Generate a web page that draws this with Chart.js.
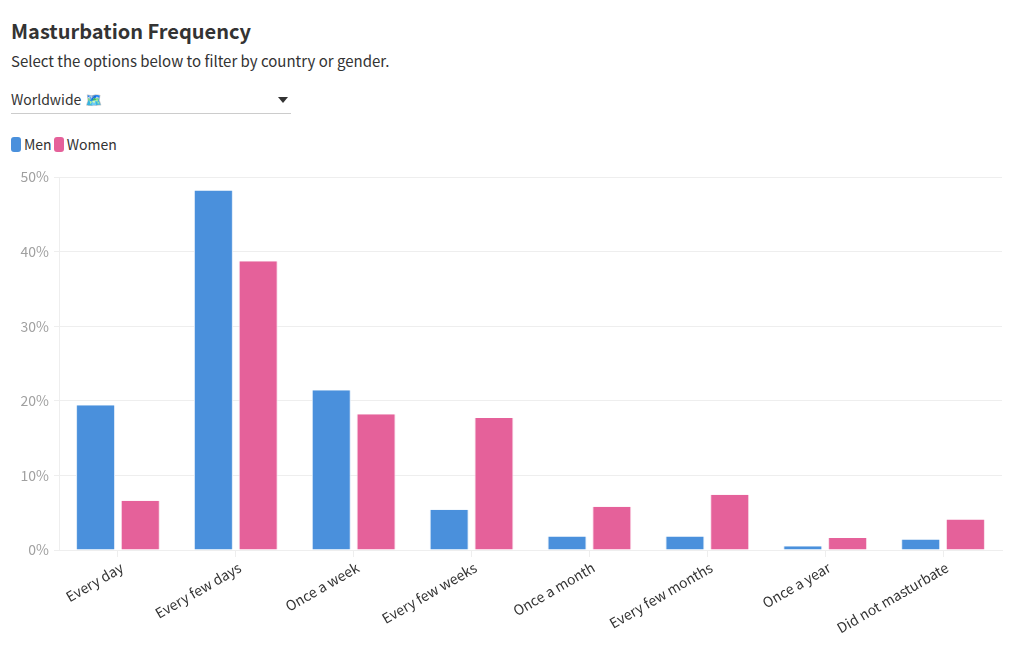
<!DOCTYPE html>
<html>
<head>
<meta charset="utf-8">
<script src="https://cdn.jsdelivr.net/npm/chart.js@4"></script>
<style>
    body { margin: 0; background: #fff; color: #333; font-family: "Noto Sans CJK SC", sans-serif; width: 1020px; height: 650px; overflow: hidden; position: relative; }
    h1 { position: absolute; left: 11px; top: 17px; margin: 0; font-size: 20px; line-height: 28px; font-weight: 700; }
    p { position: absolute; left: 11px; top: 51px; margin: 0; font-size: 15px; line-height: 20px; }
    .filtro { position: absolute; left: 11px; top: 85px; width: 280px; height: 28px; border-bottom: 1px solid #ccc; font-size: 14px; line-height: 28px; }
    .filtro:after { content: ''; position: absolute; left: 267px; top: 12px; border-left: 5.5px solid transparent; border-right: 5.5px solid transparent; border-top: 6px solid #333; }
    #leyenda { position: absolute; left: 11px; top: 134px; height: 21px; font-size: 14px; line-height: 21px; white-space: nowrap; }
    #leyenda span { display: inline-block; vertical-align: top; }
    #leyenda .caja { width: 10px; height: 15px; margin: 3px 3px 0 0; border-radius: 3px; }
    #leyenda .texto { margin-right: 2px; }
    .grafica { position: absolute; left: 0; top: 130px; width: 1020px; height: 520px; }
</style>
</head>
<body>
<h1>Masturbation Frequency</h1>
<p>Select the options below to filter by country or gender.</p>
<div class="filtro">Worldwide 🗺️</div>
<div id="leyenda"></div>
<div class="grafica"><canvas id="frecuenciaChart"></canvas></div>
<script>
const categorias = ['Every day', 'Every few days', 'Once a week', 'Every few weeks', 'Once a month', 'Every few months', 'Once a year', 'Did not masturbate'];
const hombres = [19.4, 48.2, 21.4, 5.4, 1.8, 1.8, 0.5, 1.4];
const mujeres = [6.6, 38.7, 18.2, 17.7, 5.8, 7.4, 1.6, 4.1];
const ticksY = [0, 10, 20, 30, 40, 50];

const fuente = '"Noto Sans CJK SC", sans-serif';
const ctx = document.getElementById('frecuenciaChart').getContext('2d');

const grafica = new Chart(ctx, {
    type: 'bar',
    data: {
        labels: categorias,
        datasets: [
            { label: 'Men', data: hombres, backgroundColor: '#4a90dc', borderColor: '#dbe9f8', borderWidth: { top: 0, left: 1, right: 1, bottom: 0 } },
            { label: 'Women', data: mujeres, backgroundColor: '#e5619a', borderColor: '#f9dce9', borderWidth: { top: 0, left: 1, right: 1, bottom: 0 } }
        ]
    },
    options: {
        responsive: true,
        maintainAspectRatio: false,
        animation: false,
        categoryPercentage: 0.76,
        barPercentage: 0.87,
        layout: { padding: { left: 11, right: 18, top: 47, bottom: 0 } },
        plugins: {
            tooltip: { enabled: false },
            legend: { display: false }
        },
        scales: {
            x: {
                grid: { drawOnChartArea: false, offset: false, color: '#eeeeee', tickLength: 7 },
                border: { color: '#eeeeee' },
                afterFit: function (scale) { scale.height = 100; },
                ticks: { color: '#333', font: { family: fuente, size: 14 }, minRotation: 30, maxRotation: 30, padding: 2, labelOffset: 4, autoSkip: false }
            },
            y: {
                min: 0,
                max: 50,
                afterBuildTicks: function (scale) { scale.ticks = ticksY.map(function (v) { return { value: v }; }); },
                afterFit: function (scale) { scale.width = 48; },
                grid: { color: '#eeeeee', tickLength: 5 },
                border: { color: '#eeeeee' },
                ticks: { color: '#a0a0a0', font: { family: fuente, size: 14 }, padding: 5, callback: function (v) { return v + '%'; } }
            }
        }
    }
});

// leyenda en HTML, sale de los datasets
grafica.data.datasets.forEach(function (d) {
    const caja = document.createElement('span');
    caja.className = 'caja';
    caja.style.background = d.backgroundColor;
    const texto = document.createElement('span');
    texto.className = 'texto';
    texto.textContent = d.label;
    document.getElementById('leyenda').append(caja, texto);
});
</script>
</body>
</html>
